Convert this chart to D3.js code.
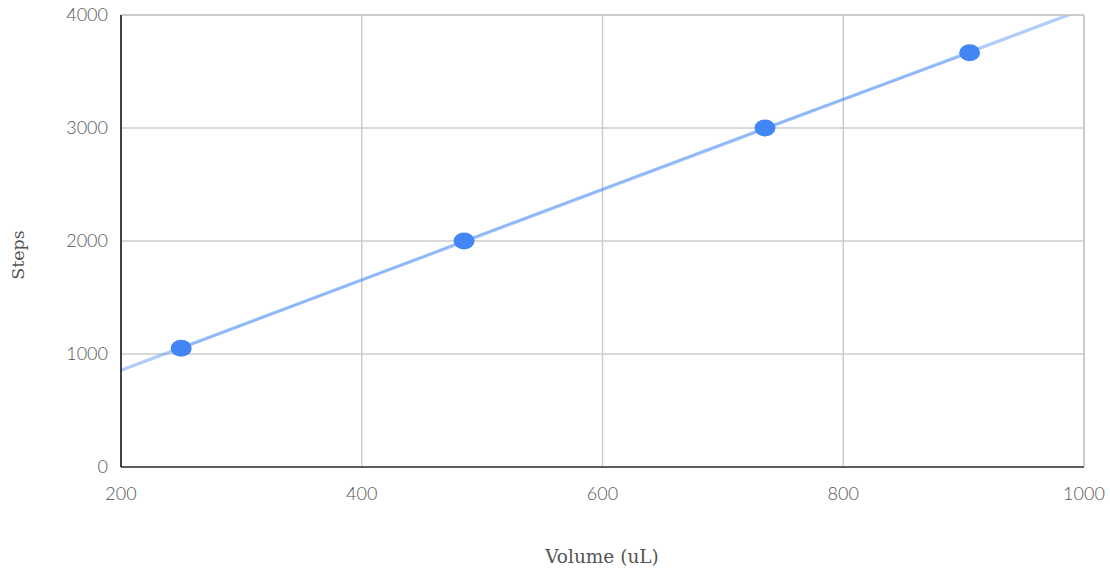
<!DOCTYPE html>
<html><head><meta charset="utf-8">
<script src="https://cdn.jsdelivr.net/npm/d3@7"></script>
<style>body{margin:0;background:#fff}svg{display:block}</style>
</head><body>
<svg id="c" width="1110" height="571"></svg>
<script>
const volumes = [250, 485, 735, 905];
const steps = [1050, 2000, 3000, 3665];
const xTicks = [200, 400, 600, 800, 1000];
const yTicks = [0, 1000, 2000, 3000, 4000];
const xTitle = "Volume (uL)";
const yTitle = "Steps";

const svg = d3.select("#c");
const m = {l:121, r:26, t:15, b:104};
const W = 1110, H = 571;
const x = d3.scaleLinear().domain([200,1000]).range([m.l, W-m.r]);
const y = d3.scaleLinear().domain([0,4000]).range([H-m.b, m.t]);

const defs = svg.append("defs");
defs.append("clipPath").attr("id","clip").append("rect")
  .attr("x", m.l).attr("y", m.t).attr("width", W-m.r-m.l).attr("height", H-m.b-m.t);
defs.append("filter").attr("id","blur").append("feGaussianBlur").attr("stdDeviation",0.7);

// gridlines
svg.append("g").selectAll("line").data(xTicks).join("line")
  .attr("x1", d=>x(d)).attr("x2", d=>x(d)).attr("y1", m.t).attr("y2", H-m.b)
  .attr("stroke", "#cccccc").attr("stroke-width", 1.5);
svg.append("g").selectAll("line").data(yTicks).join("line")
  .attr("y1", d=>y(d)).attr("y2", d=>y(d)).attr("x1", m.l).attr("x2", W-m.r)
  .attr("stroke", "#cccccc").attr("stroke-width", 1.5);

// trendline (least squares)
const n = volumes.length;
const mx = d3.mean(volumes), my = d3.mean(steps);
let sxy=0, sxx=0;
for (let i=0;i<n;i++){ sxy += (volumes[i]-mx)*(steps[i]-my); sxx += (volumes[i]-mx)**2; }
const slope = sxy/sxx, icpt = my - slope*mx;
const g = svg.append("g").attr("clip-path","url(#clip)");
g.append("line")
  .attr("x1", x(200)).attr("y1", y(icpt+slope*200))
  .attr("x2", x(1000)).attr("y2", y(icpt+slope*1000))
  .attr("stroke", "#4285f4").attr("stroke-opacity", 0.42).attr("stroke-width", 3.2)
  .attr("filter","url(#blur)");
// series line
const pts = volumes.map((v,i)=>[v, steps[i]]);
g.append("path").datum(pts)
  .attr("d", d3.line().x(d=>x(d[0])).y(d=>y(d[1])))
  .attr("fill","none").attr("stroke","#4285f4").attr("stroke-opacity",0.3).attr("stroke-width",2.5)
  .attr("filter","url(#blur)");

// points
svg.append("g").selectAll("ellipse").data(pts).join("ellipse")
  .attr("cx", d=>x(d[0])).attr("cy", d=>y(d[1]))
  .attr("rx", 10.5).attr("ry", 8.5).attr("fill", "#4285f4")
  .attr("filter","url(#blur)");

// axes / frame
svg.append("line").attr("x1", m.l).attr("x2", W-m.r).attr("y1", m.t).attr("y2", m.t)
  .attr("stroke","#c8c8c8").attr("stroke-width",1.5);
svg.append("line").attr("x1", W-m.r).attr("x2", W-m.r).attr("y1", m.t).attr("y2", H-m.b)
  .attr("stroke","#c8c8c8").attr("stroke-width",1.5);
svg.append("line").attr("x1", m.l).attr("x2", W-m.r).attr("y1", H-m.b).attr("y2", H-m.b)
  .attr("stroke","#333").attr("stroke-width",1.5);
svg.append("line").attr("x1", m.l).attr("x2", m.l).attr("y1", m.t).attr("y2", H-m.b)
  .attr("stroke","#111").attr("stroke-width",1.5);

// tick labels
svg.append("g").selectAll("text").data(yTicks).join("text")
  .attr("x", 108).attr("y", d=>y(d)).attr("dy","0.35em")
  .attr("text-anchor","end").attr("fill","#555")
  .style("font-family","Lato, 'Open Sans', sans-serif").style("font-size","18px").style("font-weight",300)
  .text(d=>d);
svg.append("g").selectAll("text").data(xTicks).join("text")
  .attr("x", d=>x(d)).attr("y", 500)
  .attr("text-anchor","middle").attr("fill","#555")
  .style("font-family","Lato, 'Open Sans', sans-serif").style("font-size","18px").style("font-weight",300)
  .text(d=>d);

// axis titles
svg.append("text").attr("x", 602).attr("y", 563).attr("text-anchor","middle")
  .attr("fill","#555").style("font-family","'DejaVu Serif', serif").style("font-size","18.5px")
  .text(xTitle);
svg.append("text").attr("transform","translate(24,255) rotate(-90)").attr("text-anchor","middle")
  .attr("fill","#555").style("font-family","'DejaVu Serif', serif").style("font-size","17.5px")
  .text(yTitle);
</script>
</body></html>
